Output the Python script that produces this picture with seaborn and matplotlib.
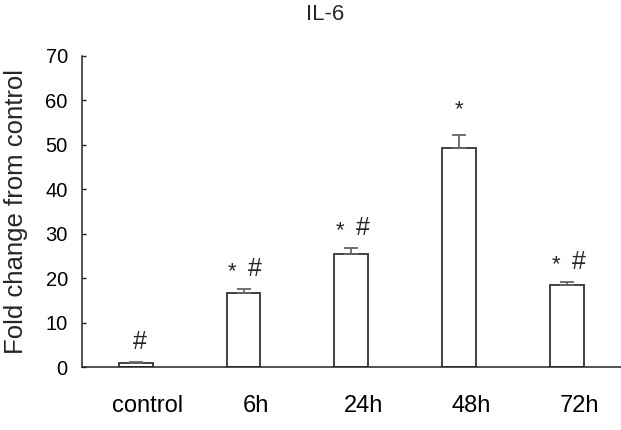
import matplotlib
matplotlib.use("Agg")
import matplotlib.pyplot as plt
import matplotlib.transforms as mtransforms
import seaborn as sns
import pandas as pd

# ---- data ----
groups = ["control", "6h", "24h", "48h", "72h"]
fold_change = [1.0, 16.8, 25.5, 49.2, 18.5]
sem = [0.1, 0.7, 1.3, 3.0, 0.6]
star = ["", "*", "*", "*", "*"]
hashmark = ["#", "#", "#", "", "#"]
y_ticks = [0, 10, 20, 30, 40, 50, 60, 70]

df = pd.DataFrame({"group": groups, "value": fold_change})

sns.set_style("white")
plt.rcParams["font.family"] = ["Liberation Sans", "DejaVu Sans"]

fig = plt.figure(figsize=(6.21, 4.30), dpi=100)
ax = fig.add_axes([0.1316, 0.1458, 0.8684, 0.7240])

sns.barplot(data=df, x="group", y="value", order=groups, color="white",
            edgecolor="#333333", linewidth=1.3, width=0.315, errorbar=None, ax=ax)
for p in ax.patches:
    p.set_facecolor("white")

xpos = list(range(len(groups)))
ax.errorbar(xpos, fold_change, yerr=[[0] * len(sem), sem], fmt="none",
            ecolor="#666666", elinewidth=1.3, capsize=5, capthick=1.3)

ax.set_xlim(-0.5, 4.5)
ax.set_ylim(0, 70)
ax.set_yticks(y_ticks)
ax.set_yticklabels([str(t) for t in y_ticks])
ax.set_xticks(xpos)
ax.set_xticklabels(groups)
ax.set_xlabel("")
ax.set_ylabel("")

for s in ["top", "right"]:
    ax.spines[s].set_visible(False)
for s in ["left", "bottom"]:
    ax.spines[s].set_color("#222222")
    ax.spines[s].set_linewidth(1.1)

ax.tick_params(axis="y", direction="in", length=3, width=1, colors="#222222",
               labelsize=14.5, labelcolor="black", pad=10, left=True)
ax.tick_params(axis="x", length=0, labelsize=17, labelcolor="black", pad=20)
offset = mtransforms.ScaledTranslation(12 / 100, 0, fig.dpi_scale_trans)
for lab in ax.get_xticklabels():
    lab.set_transform(lab.get_transform() + offset)

# significance marks
for i, (v, e, s, h) in enumerate(zip(fold_change, sem, star, hashmark)):
    top = v + e
    if s and h:
        ax.annotate(s, (i, top), xytext=(-8, 5), textcoords="offset points",
                    ha="center", va="bottom", fontsize=16)
        ax.annotate(h, (i, top), xytext=(8.5, 6), textcoords="offset points",
                    ha="center", va="bottom", fontsize=18)
    elif s:
        ax.annotate(s, (i, top), xytext=(0, 11), textcoords="offset points",
                    ha="center", va="bottom", fontsize=16)
    elif h:
        ax.annotate(h, (i, top), xytext=(3, 6), textcoords="offset points",
                    ha="center", va="bottom", fontsize=18)

fig.text(325 / 621, 1 - 15 / 430, "IL-6", ha="center", va="center", fontsize=16)
fig.text(16 / 621, 1 - 212 / 430, "Fold change from control", rotation=90,
         ha="center", va="center", fontsize=18.5)

fig.savefig("out.png", dpi=100)
